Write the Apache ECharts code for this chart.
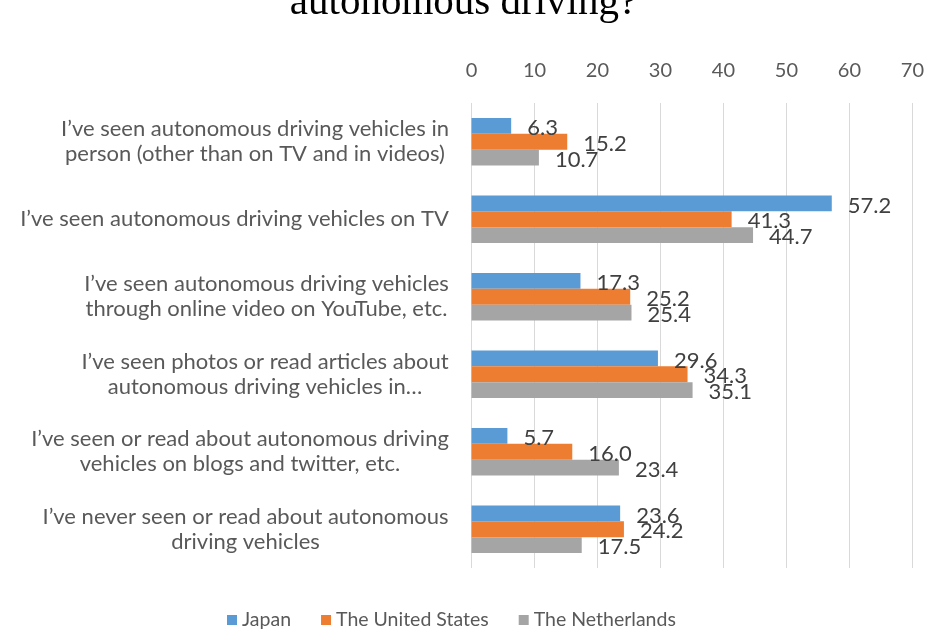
<!DOCTYPE html>
<html>
<head>
<meta charset="utf-8">
<script src="https://cdn.jsdelivr.net/npm/echarts@6/dist/echarts.min.js"></script>
<style>
  html, body { margin: 0; padding: 0; background: #ffffff; }
  #chart { width: 927px; height: 632px; }
</style>
</head>
<body>
<div id="chart"></div>
<script>
// Survey answers (one entry per response option, top to bottom)
const categories = [
  'I\u2019ve seen autonomous driving vehicles in\nperson (other than on TV and in videos)',
  'I\u2019ve seen autonomous driving vehicles on TV',
  'I\u2019ve seen autonomous driving vehicles\nthrough online video on YouTube, etc.',
  'I\u2019ve seen photos or read articles about\nautonomous driving vehicles in\u2026',
  'I\u2019ve seen or read about autonomous driving\nvehicles on blogs and twitter, etc.',
  'I\u2019ve never seen or read about autonomous\ndriving vehicles'
];

// Share of respondents (%) per country
const japan        = [6.3, 57.2, 17.3, 29.6, 5.7, 23.6];
const unitedStates = [15.2, 41.3, 25.2, 34.3, 16.0, 24.2];
const netherlands  = [10.7, 44.7, 25.4, 35.1, 23.4, 17.5];

// Value axis tick values
const axisTicks = [0, 10, 20, 30, 40, 50, 60, 70];

const seriesNames = ['Japan', 'The United States', 'The Netherlands'];
const seriesColors = ['#5B9BD5', '#ED7D31', '#A5A5A5'];

const labelFont = 'Lato, "Open Sans", sans-serif';
const catFontSize = 22;

// Each category label is a centred block whose right edge sits against the axis.
// Measure the widest line so every line can be centred inside that block.
const measureCtx = document.createElement('canvas').getContext('2d');
measureCtx.font = catFontSize + 'px ' + labelFont;
const rich = {};
categories.forEach((c, i) => {
  const w = Math.max(...c.split('\n').map(l => measureCtx.measureText(l).width));
  rich['c' + i] = {
    width: Math.ceil(w) + 1,
    align: 'center',
    fontFamily: labelFont,
    fontSize: catFontSize,
    lineHeight: 25,
    color: '#595959'
  };
});

const chart = echarts.init(document.getElementById('chart'), null, { renderer: 'canvas' });

const valueLabel = {
  show: true,
  position: 'right',
  distance: 16,
  offset: [0, 2],
  fontFamily: labelFont,
  fontSize: 22,
  color: '#404040',
  formatter: p => p.value.toFixed(1)
};

const seriesData = [japan, unitedStates, netherlands];

chart.setOption({
  animation: false,
  backgroundColor: '#ffffff',
  title: {
    text: 'autonomous driving?',
    left: 'center',
    top: -22,
    textStyle: {
      fontFamily: '"Liberation Serif", "Times New Roman", serif',
      fontWeight: 'normal',
      fontSize: 41,
      color: '#000000'
    }
  },
  legend: {
    data: seriesNames,
    bottom: -3,
    left: 222,
    icon: 'rect',
    itemWidth: 10,
    itemHeight: 10,
    itemGap: 30,
    textStyle: { fontFamily: labelFont, fontSize: 19.5, color: '#595959' }
  },
  grid: {
    left: 471.5,
    right: 12,
    top: 103,
    bottom: 64,
    containLabel: false
  },
  xAxis: {
    type: 'value',
    position: 'top',
    min: axisTicks[0],
    max: axisTicks[axisTicks.length - 1],
    interval: axisTicks[1] - axisTicks[0],
    axisLine: { show: false },
    axisTick: { show: false },
    axisLabel: {
      margin: 22,
      fontFamily: labelFont,
      fontSize: 20,
      color: '#595959'
    },
    splitLine: { show: true, lineStyle: { color: '#d9d9d9', width: 1 } }
  },
  yAxis: {
    type: 'category',
    data: categories,
    inverse: true,
    axisLine: { show: false },
    axisTick: { show: false },
    axisLabel: {
      margin: 22,
      formatter: (v, i) => v.split('\n').map(l => '{c' + i + '|' + l + '}').join('\n'),
      rich: rich
    }
  },
  series: seriesNames.map((name, k) => ({
    name: name,
    type: 'bar',
    data: seriesData[k],
    barGap: '0%',
    barCategoryGap: '39%',
    itemStyle: { color: seriesColors[k] },
    label: valueLabel
  }))
});
</script>
</body>
</html>
